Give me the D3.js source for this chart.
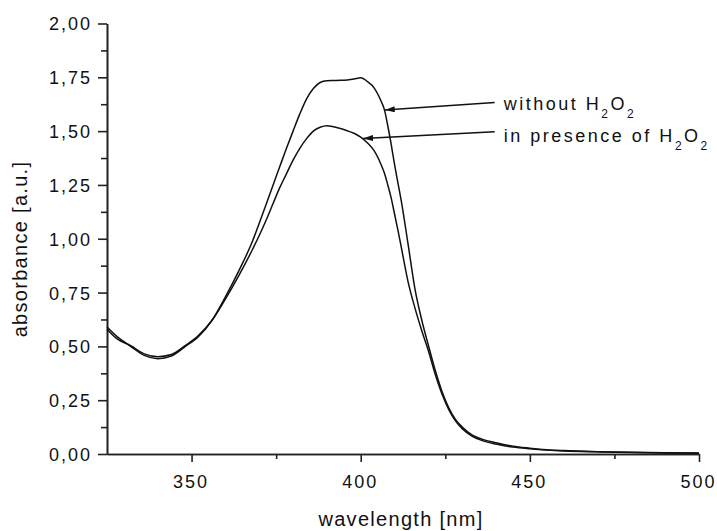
<!DOCTYPE html>
<html lang="en">
    <head>
        <meta charset="utf-8">
        <title>Absorbance spectra</title>
        <script type="text/javascript" src="https://d3js.org/d3.v7.min.js"></script>
        <style>
            body { margin: 0; background: white; }
            #chart text { font-family: "Liberation Sans", Arial, sans-serif; fill: #111; }
            .axis path, .axis line { stroke: #222; stroke-width: 1.6; }
            .spectrum { fill: none; stroke: #111; stroke-width: 1.5; }
        </style>
    </head>
    <body>
        <svg id="chart" width="717" height="531"></svg>
    </body>
    <script>
        // wavelength [nm]
        let wavelengths = [325,328,332,336,340,344,348,352,356,360,364,368,370,372,374,376,378,380,382,384,386,388,390,
                           392,394,396,398,400,402,404,406,407,408,409,410,411,412,414,416,418,420,422,424,426,428,
                           430,433,436,440,445,450,455,460,470,480,490,500];

        // absorbance without H2O2
        let withoutH2O2 = [0.590,0.545,0.500,0.458,0.443,0.455,0.498,0.545,0.620,0.730,0.852,0.988,1.072,1.158,1.245,1.332,1.418,
                           1.500,1.580,1.650,1.698,1.726,1.734,1.735,1.736,1.738,1.742,1.748,1.730,1.700,1.640,1.600,1.525,
                           1.440,1.345,1.260,1.175,0.975,0.770,0.625,0.505,0.390,0.292,0.216,0.161,0.125,0.088,0.068,0.052,
                           0.036,0.027,0.020,0.016,0.011,0.008,0.006,0.005];

        // absorbance in presence of H2O2
        let withH2O2 = [0.580,0.535,0.503,0.465,0.452,0.462,0.502,0.550,0.620,0.720,0.830,0.950,1.015,1.085,1.160,1.235,1.300,
                        1.365,1.420,1.465,1.500,1.518,1.525,1.520,1.512,1.502,1.490,1.472,1.445,1.408,1.345,1.305,1.250,
                        1.190,1.115,1.040,0.960,0.800,0.680,0.575,0.480,0.372,0.280,0.207,0.154,0.118,0.082,0.062,0.046,
                        0.032,0.024,0.018,0.014,0.010,0.007,0.005,0.004];

        let xTicks = [350, 400, 450, 500];
        let xMinorTicks = [375, 425, 475];
        let yTicks = [0, 0.25, 0.5, 0.75, 1.0, 1.25, 1.5, 1.75, 2.0];
        let yMinorTicks = [0.125, 0.375, 0.625, 0.875, 1.125, 1.375, 1.625, 1.875];

        let seriesLabels = ["without H", "in presence of H"];

        let svg = d3.select("#chart");
        let margin = {left: 107, right: 699, top: 23.5, bottom: 454};

        let x = d3.scaleLinear().domain([325, 500]).range([margin.left, margin.right]);
        let y = d3.scaleLinear().domain([0, 2]).range([margin.bottom, margin.top]);

        let comma = d3.formatLocale({decimal: ",", thousands: ".", grouping: [3], currency: ["", ""]}).format(".2f");

        // minor ticks first, major axis on top
        svg.append("g").attr("class", "axis")
            .attr("transform", `translate(0,${margin.bottom})`)
            .call(d3.axisBottom(x).tickValues(xMinorTicks).tickSize(5).tickSizeOuter(0).tickFormat(""));
        svg.append("g").attr("class", "axis")
            .attr("transform", `translate(${margin.left},0)`)
            .call(d3.axisLeft(y).tickValues(yMinorTicks).tickSize(6).tickSizeOuter(0).tickFormat(""));

        let xAxis = svg.append("g").attr("class", "axis")
            .attr("transform", `translate(0,${margin.bottom})`)
            .call(d3.axisBottom(x).tickValues(xTicks).tickSize(8).tickSizeOuter(0).tickFormat(d3.format("d")));
        xAxis.selectAll("text")
            .attr("y", 34).attr("x", -1).attr("dy", null)
            .style("font-size", "18px").style("letter-spacing", "2px");

        let yAxis = svg.append("g").attr("class", "axis")
            .attr("transform", `translate(${margin.left},0)`)
            .call(d3.axisLeft(y).tickValues(yTicks).tickSize(9).tickSizeOuter(0).tickFormat(comma));
        yAxis.selectAll("text")
            .attr("x", -15).attr("dy", "0.36em")
            .style("font-size", "18px").style("letter-spacing", "2px");
        svg.selectAll(".axis .domain").attr("stroke-width", 1.8);

        // spectra
        let line = d3.line()
            .x((d, i) => x(wavelengths[i]))
            .y(d => y(d))
            .curve(d3.curveMonotoneX);

        svg.selectAll("path.spectrum")
            .data([withoutH2O2, withH2O2])
            .enter()
            .append("path")
            .attr("class", "spectrum")
            .attr("d", d => line(d));

        // annotations with arrows
        svg.append("defs").append("marker")
            .attr("id", "head")
            .attr("viewBox", "0 0 10 6")
            .attr("refX", 10).attr("refY", 3)
            .attr("markerWidth", 10).attr("markerHeight", 6)
            .attr("markerUnits", "userSpaceOnUse")
            .attr("orient", "auto")
            .append("path").attr("d", "M0,0L10,3L0,6Z").attr("fill", "#111");

        let notes = [
            {from: [439.6, 1.633], to: [407.1, 1.598], text: [442.3, 1.598]},
            {from: [439.6, 1.497], to: [400.7, 1.466], text: [442.3, 1.451]}
        ];

        notes.forEach((n, i) => {
            svg.append("line")
                .attr("x1", x(n.from[0])).attr("y1", y(n.from[1]))
                .attr("x2", x(n.to[0])).attr("y2", y(n.to[1]))
                .attr("stroke", "#111").attr("stroke-width", 1.5)
                .attr("marker-end", "url(#head)");
            let t = svg.append("text")
                .attr("x", x(n.text[0])).attr("y", y(n.text[1]))
                .style("font-size", "18px").style("letter-spacing", "2.5px");
            t.append("tspan").text(seriesLabels[i]);
            t.append("tspan").attr("dy", 8).style("font-size", "12px").text("2");
            t.append("tspan").attr("dy", -8).text("O");
            t.append("tspan").attr("dy", 8).style("font-size", "12px").text("2");
        });

        // axis titles
        svg.append("text")
            .attr("x", 401).attr("y", 526)
            .attr("text-anchor", "middle")
            .style("font-size", "20px").style("letter-spacing", "1.3px")
            .text("wavelength [nm]");

        svg.append("text")
            .attr("transform", "translate(27,249) rotate(-90)")
            .attr("text-anchor", "middle")
            .style("font-size", "20px").style("letter-spacing", "1.3px")
            .text("absorbance [a.u.]");
    </script>
</html>
